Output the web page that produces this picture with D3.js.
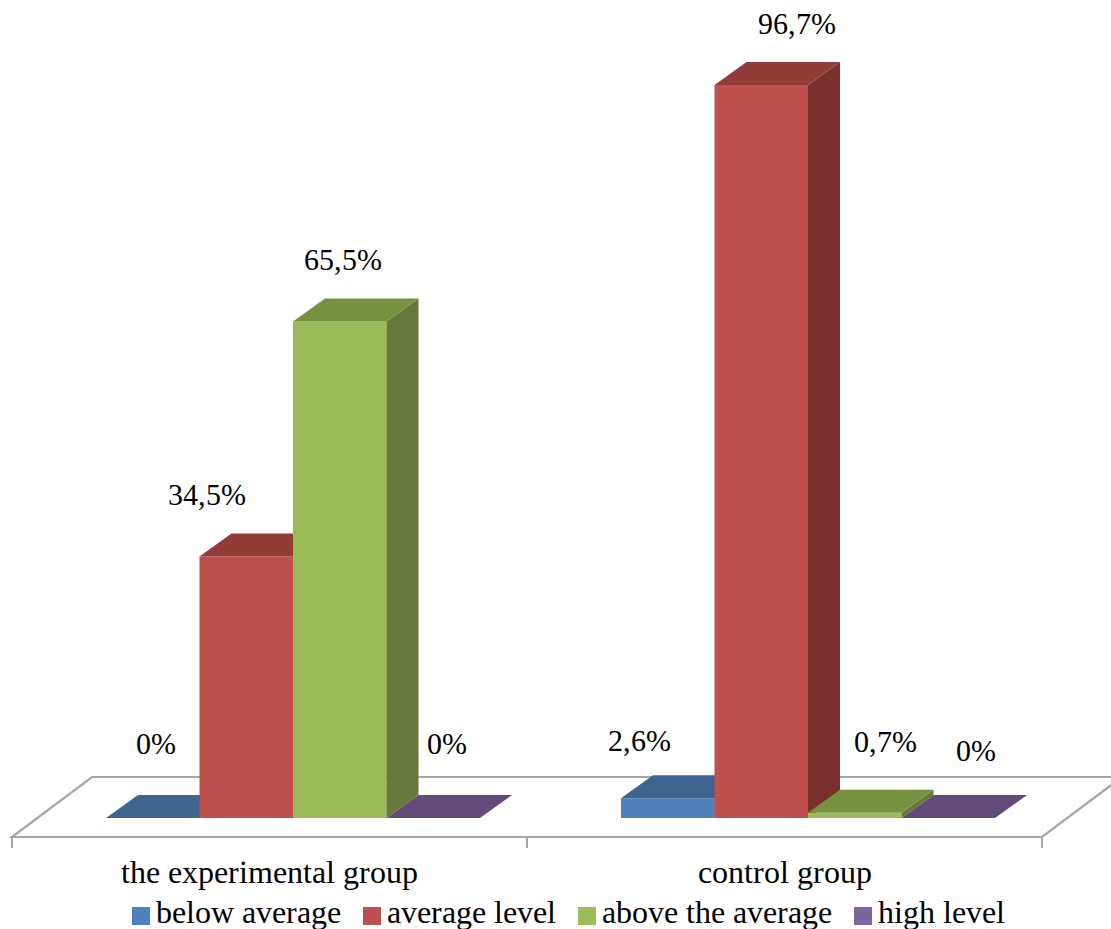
<!DOCTYPE html>
<html>
<head>
<meta charset="utf-8">
<script src="https://cdn.jsdelivr.net/npm/d3@7"></script>
<style>
  @font-face { font-family: "ChartSerif"; src: local("Liberation Serif"), local("LiberationSerif"), local("Times New Roman"); }
  html, body { margin: 0; padding: 0; background: #ffffff; }
  svg { display: block; }
  svg text { font-family: "ChartSerif", "Liberation Serif", "Times New Roman", serif !important; }
</style>
</head>
<body>
<svg id="chart" width="1111" height="929"></svg>
<script>
// ---- data ----
const categories = ["the experimental group", "control group"];
const series = ["below average", "average level", "above the average", "high level"];
const experimentalValues = [0, 34.5, 65.5, 0];
const controlValues = [2.6, 96.7, 0.7, 0];
const experimentalLabels = ["0%", "34,5%", "65,5%", "0%"];
const controlLabels = ["2,6%", "96,7%", "0,7%", "0%"];

// ---- styles / layout ----
const FONT = '"ChartSerif", "Liberation Serif", "Times New Roman", serif';
const frontColors = ["#4F81BD", "#C0504D", "#9BBB59", "#8064A2"];
const topColors   = ["#3D6590", "#923C3A", "#77923F", "#634C7C"];
const sideColors  = ["#345781", "#7B2F2F", "#66793A", "#523F67"];
// label nudges [dx, dy] relative to the centre of each bar's top face
const experimentalNudge = [[-13, -53], [-55, -40], [-13, -40], [-2, -53]];
const controlNudge      = [[-44, -36], [20, -40], [15, -49], [12, -46]];

const svg = d3.select("#chart");
const floorFrontY = 837, floorBackY = 777;
const barBaseY = 818;
const depthDx = 32, depthDy = 23;
const floorLeft = 12, floorRight = 1042;
const floorDx = 80;
const barShift = 23.5;

const x0 = d3.scaleBand().domain(categories).range([floorLeft, floorRight]).padding(0);
const x1 = d3.scaleBand().domain(series).range([0, x0.bandwidth()]).paddingInner(0).paddingOuter(0.754);
const yH = d3.scaleLinear().domain([0, 100]).range([0, 758]);

function styleText(sel) {
  sel.style("font-family", FONT, "important").attr("fill", "#000");
  return sel;
}

// ---- floor ----
const floorG = svg.append("g");
floorG.append("path")
  .attr("d", `M${floorLeft},${floorFrontY} L${floorRight},${floorFrontY} L${floorRight + floorDx},${floorBackY} L${floorLeft + floorDx},${floorBackY} Z`)
  .attr("fill", "#ffffff")
  .attr("stroke", "#A6A6A6")
  .attr("stroke-width", 2.2)
  .attr("stroke-linejoin", "miter");
const tickXs = [floorLeft].concat(categories.map(c => x0(c) + x0.bandwidth()));
floorG.selectAll("line.tick").data(tickXs).enter().append("line")
  .attr("x1", d => d).attr("x2", d => d)
  .attr("y1", floorFrontY).attr("y2", floorFrontY + 11)
  .attr("stroke", "#A6A6A6").attr("stroke-width", 2);

// ---- bars ----
const groups = [
  { cat: categories[0], values: experimentalValues, labels: experimentalLabels, nudge: experimentalNudge },
  { cat: categories[1], values: controlValues, labels: controlLabels, nudge: controlNudge }
];
const barsG = svg.append("g");
const labelsG = svg.append("g");

groups.forEach(g => {
  g.values.forEach((v, i) => {
    const xa = x0(g.cat) + x1(series[i]) + barShift;
    const xb = xa + x1.bandwidth();
    const yt = barBaseY - yH(v);
    const yb = barBaseY;
    if (v > 0) {
      barsG.append("path")
        .attr("d", `M${xa},${yb} L${xb},${yb} L${xb},${yt} L${xa},${yt} Z`)
        .attr("fill", frontColors[i]);
      barsG.append("path")
        .attr("d", `M${xb},${yb} L${xb + depthDx},${yb - depthDy} L${xb + depthDx},${yt - depthDy} L${xb},${yt} Z`)
        .attr("fill", sideColors[i]);
    }
    barsG.append("path")
      .attr("d", `M${xa},${yt} L${xb},${yt} L${xb + depthDx},${yt - depthDy} L${xa + depthDx},${yt - depthDy} Z`)
      .attr("fill", topColors[i]);

    const cx = (xa + xb) / 2 + depthDx / 2;
    const cy = yt - depthDy / 2;
    styleText(labelsG.append("text"))
      .attr("x", cx + g.nudge[i][0])
      .attr("y", cy + g.nudge[i][1])
      .attr("text-anchor", "middle")
      .attr("font-size", 30)
      .text(g.labels[i]);
  });
});

// ---- category labels ----
styleText(svg.append("g").selectAll("text").data(categories).enter().append("text"))
  .attr("x", d => x0(d) + x0.bandwidth() / 2)
  .attr("y", 883)
  .attr("text-anchor", "middle")
  .attr("font-size", 31.5)
  .text(d => d);

// ---- legend ----
const legendG = svg.append("g");
const sq = 18, gapSqText = 6, gapItems = 22;
let cursor = 0;
const items = [];
series.forEach((s, i) => {
  const it = legendG.append("g");
  it.append("rect").attr("x", 0).attr("y", -16).attr("width", sq).attr("height", sq).attr("fill", frontColors[i]);
  const t = styleText(it.append("text")).attr("x", sq + gapSqText).attr("y", 0)
    .attr("font-size", 31.5).text(s);
  const w = sq + gapSqText + t.node().getComputedTextLength();
  items.push({ it, x: cursor });
  cursor += w + gapItems;
});
const legendWidth = cursor - gapItems;
const legendStart = 568.5 - legendWidth / 2;
items.forEach(d => d.it.attr("transform", `translate(${legendStart + d.x},923)`));
</script>
</body>
</html>
